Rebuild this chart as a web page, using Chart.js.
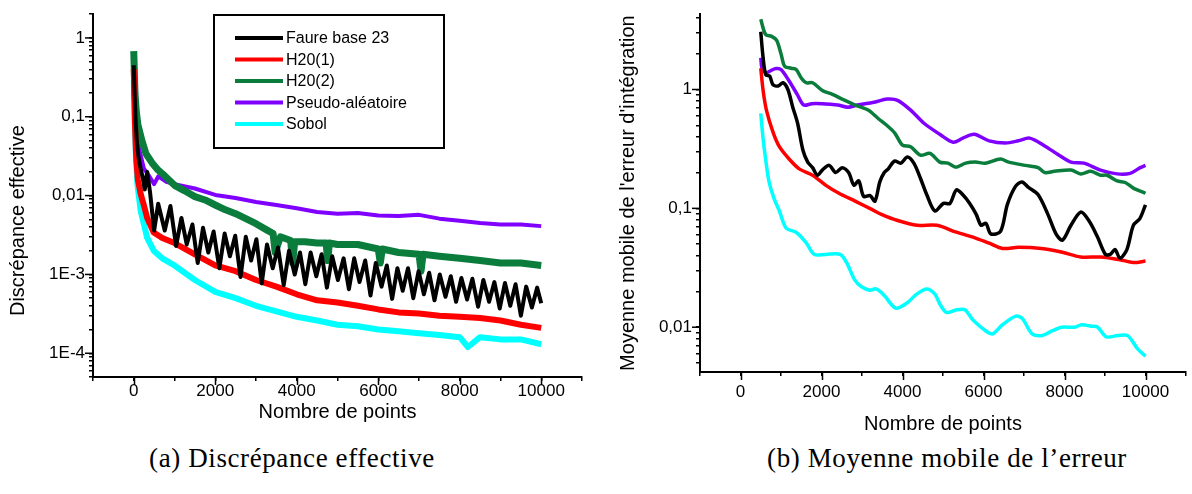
<!DOCTYPE html>
<html>
<head>
<meta charset="utf-8">
<script src="https://cdn.jsdelivr.net/npm/chart.js@4.4.0/dist/chart.umd.min.js"></script>
<style>
body { margin: 0; background: #fff; width: 1192px; height: 494px; position: relative; overflow: hidden; }
#boxA { position: absolute; left: 0; top: 0; width: 600px; height: 430px; }
#boxB { position: absolute; left: 600px; top: 0; width: 592px; height: 440px; }
.cap { position: absolute; top: 443px; font-family: "Liberation Serif", serif; font-size: 27px; letter-spacing: 0.6px; white-space: nowrap; transform: translateX(-50%); color: #000; }
</style>
</head>
<body>
<div id="boxA"><canvas id="chartA" width="600" height="430"></canvas></div>
<div id="boxB"><canvas id="chartB" width="592" height="440"></canvas></div>
<div class="cap" style="left:292px">(a) Discrépance effective</div>
<div class="cap" style="left:947px">(b) Moyenne mobile de l’erreur</div>
<script>
// series names and colours
var names = ['Faure base 23', 'H20(1)', 'H20(2)', 'Pseudo-aléatoire', 'Sobol'];
var colors = ['#000000', '#ff0000', '#0a7d3c', '#8000ff', '#00ffff'];

// (a) effective discrepancy
var faureX = [0, 40, 80, 120, 170, 220, 270, 330, 400, 500, 600, 760, 900, 1040, 1170, 1300, 1440, 1570, 1700, 1830,
  1960, 2100, 2230, 2360, 2490, 2620, 2750, 2880, 3010, 3140, 3270, 3410, 3540, 3680, 3810, 3950, 4080, 4210, 4340, 4480,
  4610, 4740, 4870, 5010, 5150, 5280, 5410, 5540, 5680, 5810, 5940, 6080, 6210, 6340, 6470, 6600, 6730, 6860, 6990, 7120,
  7250, 7380, 7510, 7650, 7780, 7910, 8040, 8180, 8310, 8450, 8580, 8720, 8850, 8980, 9110, 9240, 9370, 9500, 9630, 9770,
  9900, 10000];
var faureY = [0.45, 0.1, 0.045, 0.03, 0.022, 0.017, 0.012, 0.02, 0.011, 0.0036, 0.0079, 0.0036, 0.0074, 0.0023, 0.0052, 0.0024, 0.0043, 0.0014, 0.0039, 0.0019,
  0.0035, 0.0012, 0.0033, 0.0017, 0.0031, 0.00093, 0.003, 0.0015, 0.0028, 0.00077, 0.0024, 0.0012, 0.0022, 0.00073, 0.002, 0.001, 0.0019, 0.00075, 0.0019, 0.00095,
  0.0018, 0.00068, 0.0017, 0.00085, 0.0016, 0.00065, 0.0016, 0.0008, 0.0015, 0.00054, 0.0014, 0.0007, 0.0013, 0.00049, 0.0012, 0.00062, 0.0012, 0.0005, 0.0011, 0.00056,
  0.00105, 0.00047, 0.001, 0.00052, 0.00095, 0.00045, 0.0009, 0.00048, 0.00088, 0.00039, 0.00085, 0.00045, 0.0008, 0.00037, 0.00078, 0.0004, 0.00075, 0.0003, 0.0007, 0.00038,
  0.00068, 0.00043];
var h1X = [0, 30, 60, 100, 170, 250, 330, 490, 700, 1000, 1500, 2000, 2500, 3000, 3500, 4000, 4500, 5000, 5500, 6000,
  6500, 7000, 7500, 8000, 8500, 9000, 9500, 10000];
var h1Y = [0.4, 0.08, 0.03, 0.016, 0.0105, 0.0075, 0.0052, 0.0034, 0.0029, 0.0025, 0.0018, 0.0013, 0.0011, 0.00085, 0.0007, 0.00056, 0.00047, 0.00044, 0.0004, 0.00036,
  0.00033, 0.00032, 0.0003, 0.00029, 0.00028, 0.00026, 0.00023, 0.00021];
var h2X = [0, 30, 60, 100, 200, 300, 450, 600, 750, 1000, 1250, 1500, 1750, 2000, 2250, 2500, 2750, 3000, 3250, 3420,
  3470, 3600, 3850, 3900, 3950, 4200, 4500, 4720, 4760, 4800, 5000, 5500, 6000, 6050, 6100, 6500, 7000, 7050, 7100, 7500,
  8000, 8500, 9000, 9500, 10000];
var h2Y = [0.68, 0.2, 0.12, 0.08, 0.05, 0.034, 0.026, 0.021, 0.018, 0.0135, 0.0115, 0.0097, 0.0088, 0.0076, 0.0066, 0.0059, 0.0051, 0.0044, 0.0037, 0.0033,
  0.0019, 0.003, 0.0027, 0.0014, 0.0026, 0.0026, 0.0025, 0.0025, 0.0015, 0.0025, 0.0024, 0.0024, 0.0021, 0.0014, 0.0021, 0.0019, 0.0018, 0.0011, 0.0018, 0.0017,
  0.0016, 0.0015, 0.0014, 0.0014, 0.0013];
var pseudoX = [0, 50, 100, 250, 400, 500, 600, 800, 1000, 1500, 2000, 2500, 3000, 3500, 4000, 4500, 5000, 5500, 6000, 6500,
  7000, 7500, 8000, 8500, 9000, 9500, 10000];
var pseudoY = [0.34, 0.08, 0.046, 0.022, 0.017, 0.014, 0.0175, 0.015, 0.014, 0.0123, 0.0102, 0.0093, 0.0083, 0.0076, 0.0069, 0.0062, 0.0059, 0.006, 0.0056, 0.0055,
  0.0057, 0.0051, 0.0048, 0.0045, 0.0043, 0.0043, 0.0041];
var sobolX = [0, 30, 50, 90, 170, 330, 490, 700, 1000, 1500, 2000, 2500, 3000, 3500, 4000, 4500, 5000, 5500, 6000, 6500,
  7000, 7500, 8000, 8200, 8500, 9000, 9500, 10000];
var sobolY = [0.29, 0.08, 0.037, 0.014, 0.0064, 0.0029, 0.002, 0.0016, 0.0013, 0.00085, 0.0006, 0.0005, 0.0004, 0.00034, 0.00029, 0.00026, 0.00023, 0.00022, 0.0002, 0.00019,
  0.00018, 0.00017, 0.00016, 0.00012, 0.00016, 0.00015, 0.00015, 0.00013];

// (b) moving average of the integration error
var mFaureX = [500, 560, 625, 720, 800, 930, 1050, 1170, 1290, 1410, 1540, 1660, 1780, 1900, 2020, 2190, 2350, 2510, 2670, 2800,
  2920, 3040, 3200, 3320, 3440, 3550, 3650, 3800, 3960, 4120, 4280, 4440, 4600, 4800, 5010, 5170, 5330, 5490, 5660, 5820,
  5940, 6060, 6180, 6420, 6590, 6790, 6950, 7110, 7350, 7590, 7790, 7950, 8160, 8400, 8600, 8810, 9010, 9130, 9250, 9370,
  9540, 9700, 9860, 10000];
var mFaureY = [3.06, 1.83, 1.33, 1.3, 1.1, 1.07, 1.14, 1.0, 0.71, 0.52, 0.31, 0.245, 0.22, 0.19, 0.21, 0.23, 0.2, 0.22, 0.2, 0.157,
  0.17, 0.126, 0.128, 0.115, 0.167, 0.2, 0.215, 0.25, 0.24, 0.27, 0.24, 0.18, 0.13, 0.095, 0.11, 0.11, 0.143, 0.13, 0.11, 0.089,
  0.072, 0.075, 0.061, 0.064, 0.108, 0.153, 0.167, 0.15, 0.13, 0.089, 0.061, 0.054, 0.072, 0.093, 0.079, 0.058, 0.041, 0.041, 0.045, 0.038,
  0.045, 0.072, 0.082, 0.107];
var mH1X = [500, 560, 640, 800, 960, 1200, 1450, 1780, 2100, 2430, 2830, 3240, 3480, 3880, 4360, 4850, 5330, 5820, 6140, 6470,
  6860, 7430, 7920, 8400, 8890, 9370, 9700, 10000];
var mH1Y = [1.51, 0.97, 0.67, 0.44, 0.33, 0.26, 0.215, 0.19, 0.157, 0.134, 0.115, 0.098, 0.089, 0.079, 0.072, 0.072, 0.063, 0.056, 0.051, 0.046,
  0.047, 0.046, 0.043, 0.039, 0.039, 0.037, 0.035, 0.036];
var mH2X = [500, 620, 770, 890, 1000, 1090, 1250, 1375, 1500, 1620, 1780, 2020, 2270, 2510, 2830, 3160, 3400, 3610, 3810, 4000,
  4200, 4440, 4680, 4920, 5120, 5320, 5560, 5800, 6050, 6420, 6620, 7030, 7350, 7510, 7750, 8160, 8400, 8650, 8890, 9050,
  9300, 9500, 9700, 10000];
var mH2Y = [3.9, 2.9, 2.8, 2.6, 2.0, 1.57, 1.51, 1.47, 1.25, 1.14, 1.14, 0.98, 0.91, 0.83, 0.74, 0.67, 0.57, 0.5, 0.43, 0.34,
  0.33, 0.28, 0.29, 0.245, 0.24, 0.222, 0.24, 0.245, 0.24, 0.26, 0.245, 0.23, 0.22, 0.2, 0.205, 0.21, 0.195, 0.205, 0.19, 0.19,
  0.17, 0.165, 0.148, 0.134];
var mPseudoX = [500, 540, 640, 760, 880, 1000, 1200, 1400, 1560, 1760, 2000, 2400, 2650, 2890, 3300, 3620, 3880, 4200, 4530, 4920,
  5250, 5490, 5770, 6140, 6540, 6860, 7140, 7510, 7830, 8160, 8480, 8890, 9300, 9620, 9870, 10000];
var mPseudoY = [1.85, 1.47, 1.38, 1.45, 1.5, 1.47, 1.18, 0.91, 0.74, 0.76, 0.76, 0.74, 0.71, 0.74, 0.78, 0.83, 0.81, 0.67, 0.52, 0.42,
  0.36, 0.39, 0.42, 0.37, 0.355, 0.37, 0.39, 0.335, 0.285, 0.245, 0.24, 0.21, 0.195, 0.197, 0.22, 0.23];
var mSobolX = [500, 560, 620, 700, 820, 960, 1130, 1370, 1610, 1820, 2100, 2460, 2620, 2820, 2980, 3190, 3350, 3550, 3830, 4110,
  4350, 4600, 4800, 4930, 5090, 5340, 5540, 5740, 6060, 6230, 6470, 6800, 6960, 7200, 7450, 7690, 7930, 8250, 8420, 8660,
  8820, 9030, 9310, 9560, 9800, 10000];
var mSobolY = [0.63, 0.38, 0.26, 0.17, 0.123, 0.095, 0.068, 0.063, 0.052, 0.041, 0.041, 0.041, 0.035, 0.025, 0.022, 0.0205, 0.021, 0.0185, 0.0145, 0.016,
  0.019, 0.021, 0.019, 0.0155, 0.0133, 0.014, 0.014, 0.0115, 0.0093, 0.0088, 0.0105, 0.0124, 0.0118, 0.0088, 0.0085, 0.0093, 0.01, 0.01, 0.0105, 0.0102,
  0.01, 0.0083, 0.0085, 0.0085, 0.0066, 0.0057];

// axis ticks
var xLabelValues = [0, 2000, 4000, 6000, 8000, 10000];
var leftDecades = [1e-4, 1e-3, 0.01, 0.1, 1];
var leftDecadeLabels = ['1E-4', '1E-3', '0,01', '0,1', '1'];
var rightDecades = [0.01, 0.1, 1];
var rightDecadeLabels = ['0,01', '0,1', '1'];

Chart.defaults.font.family = '"Liberation Sans", Arial, sans-serif';
Chart.defaults.color = '#000';

function pts(xs, ys) {
  return xs.map(function (x, i) { return { x: x, y: ys[i] }; });
}

function logTicks(min, max) {
  var out = [];
  for (var e = -6; e <= 2; e++) {
    for (var m = 1; m <= 9; m++) {
      var v = m * Math.pow(10, e);
      if (v >= min * 0.9999 && v <= max * 1.0001) out.push({ value: v, major: m === 1 });
    }
  }
  return out;
}

function decadeLabel(v, decades, labels) {
  for (var i = 0; i < decades.length; i++) {
    if (Math.abs(v / decades[i] - 1) < 1e-6) return labels[i];
  }
  return '';
}

// longer tick marks at the labelled positions
var majorTicks = {
  id: 'majorTicks',
  afterDraw: function (chart) {
    var ctx = chart.ctx;
    ctx.save();
    ctx.strokeStyle = '#000';
    ctx.lineWidth = 1.5;
    var xs = chart.scales.x, ys = chart.scales.y;
    xLabelValues.forEach(function (v) {
      var p = Math.round(xs.getPixelForValue(v)) + 0.5;
      ctx.beginPath(); ctx.moveTo(p, xs.top); ctx.lineTo(p, xs.top + 8); ctx.stroke();
    });
    ys.ticks.forEach(function (t) {
      if (!t.major) return;
      var p = ys.getPixelForValue(t.value);
      ctx.beginPath(); ctx.moveTo(ys.right, p); ctx.lineTo(ys.right - 8, p); ctx.stroke();
    });
    ctx.restore();
  }
};

// boxed legend of the left panel
var boxLegend = {
  id: 'boxLegend',
  afterDraw: function (chart) {
    var ctx = chart.ctx;
    ctx.save();
    ctx.strokeStyle = '#000';
    ctx.lineWidth = 2;
    ctx.strokeRect(214, 15, 230, 133);
    ctx.font = '16px "Liberation Sans", Arial, sans-serif';
    ctx.textBaseline = 'middle';
    chart.data.datasets.forEach(function (ds, i) {
      var y = 38 + i * 21.5;
      ctx.strokeStyle = ds.borderColor;
      ctx.lineWidth = 4;
      ctx.beginPath(); ctx.moveTo(235, y); ctx.lineTo(283, y); ctx.stroke();
      ctx.fillStyle = '#000';
      ctx.fillText(ds.label, 286, y + 1);
    });
    ctx.restore();
  }
};

function xScale(titlePad, tickPad, height) {
  return {
    type: 'linear', min: -1000, max: 11000,
    afterBuildTicks: function (s) {
      var t = [];
      for (var v = -1000; v <= 11000; v += 1000) t.push({ value: v });
      s.ticks = t;
    },
    afterFit: function (s) { s.height = height; },
    border: { display: true, color: '#000', width: 2 },
    grid: { display: true, drawOnChartArea: false, drawTicks: true, tickLength: 4, color: '#000', lineWidth: 1.5 },
    ticks: {
      autoSkip: false, maxRotation: 0, padding: tickPad, font: { size: 17 },
      callback: function (v) { return xLabelValues.indexOf(v) >= 0 ? String(v) : ''; }
    },
    title: { display: true, text: 'Nombre de points', font: { size: 20 }, padding: { top: 0, bottom: titlePad } }
  };
}

function yScale(min, max, decades, labels, title, titlePad, width) {
  return {
    type: 'logarithmic', min: min, max: max,
    afterBuildTicks: function (s) { s.ticks = logTicks(min, max); },
    afterFit: function (s) { s.width = width; },
    border: { display: true, color: '#000', width: 2 },
    grid: { display: true, drawOnChartArea: false, drawTicks: true, tickLength: 4, color: '#000', lineWidth: 1.5 },
    ticks: {
      autoSkip: false, padding: 4, font: { size: 17 },
      callback: function (v) { return decadeLabel(v, decades, labels); }
    },
    title: { display: true, text: title, font: { size: 20 }, padding: { top: titlePad, bottom: 0 } }
  };
}

function sets(list, widths, tension) {
  return list.map(function (s, i) {
    return {
      label: names[i], data: pts(s[0], s[1]), borderColor: colors[i], backgroundColor: colors[i],
      borderWidth: widths[i], pointRadius: 0, tension: tension, borderJoinStyle: 'round', fill: false
    };
  });
}

new Chart(document.getElementById('chartA'), {
  type: 'line',
  data: {
    datasets: sets([[faureX, faureY], [h1X, h1Y], [h2X, h2Y], [pseudoX, pseudoY], [sobolX, sobolY]], [4, 6, 7, 4, 6], 0)
  },
  options: {
    responsive: false, animation: false, maintainAspectRatio: false,
    layout: { padding: { top: 14, right: 18, left: 0, bottom: 0 } },
    plugins: { legend: { display: false }, tooltip: { enabled: false } },
    scales: {
      x: xScale(6, 0, 53),
      // trailing spaces push the rotated title a little lower, as in the original
      y: yScale(5e-5, 2, leftDecades, leftDecadeLabels, 'Discrépance effective         ', 6, 93)
    }
  },
  plugins: [majorTicks, boxLegend]
});

new Chart(document.getElementById('chartB'), {
  type: 'line',
  data: {
    datasets: sets([[mFaureX, mFaureY], [mH1X, mH1Y], [mH2X, mH2Y], [mPseudoX, mPseudoY], [mSobolX, mSobolY]], [3.5, 3.5, 3.5, 3.5, 3.5], 0.3)
  },
  options: {
    responsive: false, animation: false, maintainAspectRatio: false,
    layout: { padding: { top: 5, right: 0, left: 0, bottom: 0 } },
    plugins: { legend: { display: false }, tooltip: { enabled: false } },
    scales: {
      x: xScale(4, 6, 68),
      y: yScale(0.0042, 4.3, rightDecades, rightDecadeLabels, 'Moyenne mobile de l\'erreur d\'intégration', 16, 100)
    }
  },
  plugins: [majorTicks]
});
</script>
</body>
</html>
